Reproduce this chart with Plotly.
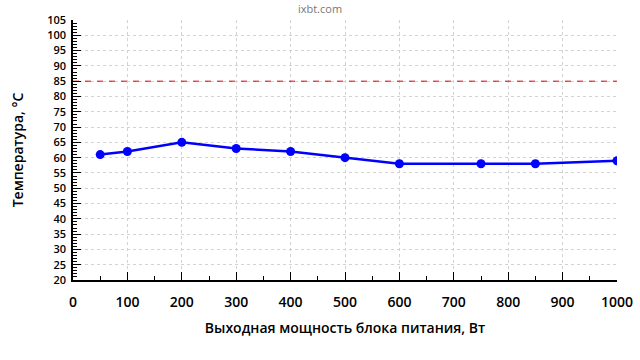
import plotly.graph_objects as go

power_w = [50, 100, 200, 300, 400, 500, 600, 750, 850, 1000]
temp_c = [61, 62, 65, 63, 62, 60, 58, 58, 58, 59]
limit_c = 85
x_ticks = list(range(0, 1001, 100))
y_ticks = list(range(20, 106, 5))

font_family = "Open Sans, Noto Sans, sans-serif"

fig = go.Figure()
fig.add_trace(go.Scatter(
    x=power_w, y=temp_c, mode="lines+markers",
    line=dict(color="#0000ff", width=2.5),
    marker=dict(color="#0000ff", size=9),
    showlegend=False,
))
fig.add_trace(go.Scatter(
    x=[0, 1000], y=[limit_c, limit_c], mode="lines",
    line=dict(color="#e00000", width=1, dash="6px,6px"),
    showlegend=False,
))

fig.update_layout(
    width=640, height=360,
    margin=dict(l=73, r=23, t=20, b=80, autoexpand=False),
    plot_bgcolor="white", paper_bgcolor="white",
    font=dict(family=font_family, color="black", size=14),
    title=dict(text="ixbt.com", x=0.5, xanchor="center", y=0.985, yanchor="top",
               font=dict(size=11, color="#777777")),
)
fig.update_xaxes(
    range=[0, 1000], tickvals=x_ticks, automargin=False,
    showline=True, linecolor="black", linewidth=1.5,
    ticks="inside", ticklen=8, tickcolor="black",
    showgrid=True, gridcolor="#d2d2d2", griddash="dot", gridwidth=1,
    zeroline=False,
    minor=dict(dtick=50, ticks="inside", ticklen=4, tickcolor="black", showgrid=False),
    title=dict(text="Выходная мощность блока питания, Вт", standoff=14,
               font=dict(size=14, weight=600)),
    tickfont=dict(size=14, weight=600), ticklabelstandoff=8,
)
fig.update_yaxes(
    range=[20, 105], tickvals=y_ticks, automargin=False,
    showline=True, linecolor="black", linewidth=1.5,
    ticks="inside", ticklen=8, tickcolor="black",
    showgrid=True, gridcolor="#d2d2d2", griddash="dot", gridwidth=1,
    zeroline=False,
    minor=dict(dtick=1, ticks="inside", ticklen=4, tickcolor="black", showgrid=False),
    title=dict(text="Температура, °C", standoff=20, font=dict(size=14, weight=600)),
    tickfont=dict(size=11, weight=600), ticklabelstandoff=3,
)

fig.write_html("out.html")
